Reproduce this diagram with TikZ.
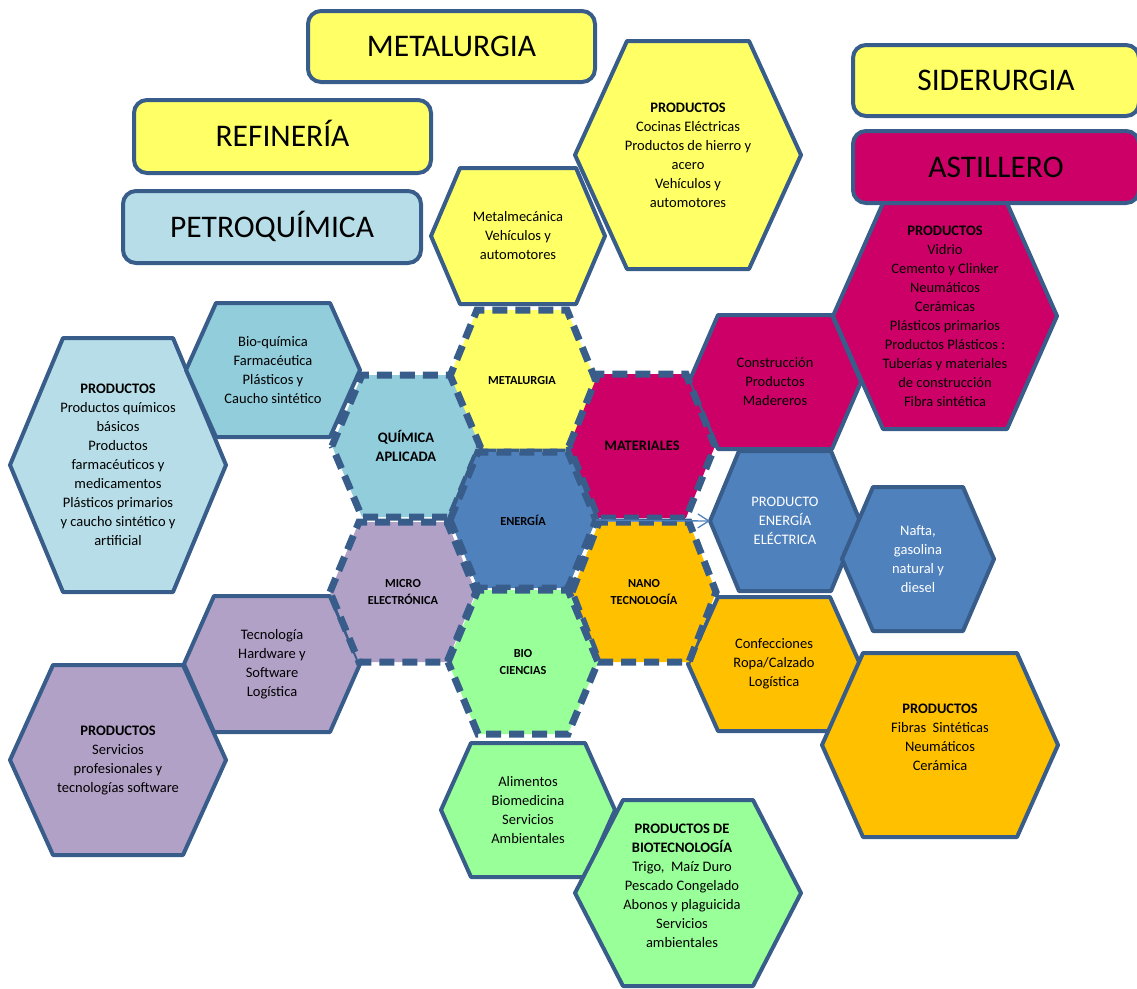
\documentclass[tikz,border=0pt]{standalone}
\usepackage{fontspec}
\setmainfont{Carlito}
\usepackage{tikz}
\usetikzlibrary{arrows.meta}
\definecolor{borde}{HTML}{385D8A}
\definecolor{amarillo}{HTML}{FFFF66}
\definecolor{celeste}{HTML}{B7DEE8}
\definecolor{turquesa}{HTML}{92CDDC}
\definecolor{azul}{HTML}{4F81BD}
\definecolor{fucsia}{HTML}{CC0066}
\definecolor{lila}{HTML}{B2A1C7}
\definecolor{verde}{HTML}{99FF99}
\definecolor{naranja}{HTML}{FFC000}
\tikzset{
  celda/.style={draw=borde,line width=4pt,line join=round},
  nucleo/.style={draw=borde,line width=7pt,dash pattern=on 15pt off 8pt},
  texto/.style={align=center,inner sep=0pt,font=\fontsize{14.5pt}{19pt}\selectfont},
  centro/.style={align=center,inner sep=0pt,font=\bfseries\fontsize{12.3pt}{17pt}\selectfont},
  centrog/.style={centro,font=\bfseries\fontsize{14.5pt}{19pt}\selectfont},
  titulo/.style={draw=borde,line width=4pt,rounded corners=13pt,inner sep=0pt,
    text height=20pt,text depth=0pt,font=\fontsize{31.5pt}{36pt}\selectfont},
  flecha/.style={-{Straight Barb[length=11pt,width=14pt]},line width=1.3pt,draw=azul}
}
% hexagono: estilo, nombre, centro x, centro y, semiancho, semialto, sesgo
\newcommand{\hexa}[7][celda]{%
  \draw[#1] (#3-#5,#4) -- (#3-#5+#7,#4-#6) -- (#3+#5-#7,#4-#6) -- (#3+#5,#4)
    -- (#3+#5-#7,#4+#6) -- (#3-#5+#7,#4+#6) -- cycle;
  \coordinate (#2) at (#3,#4);
  \coordinate (#2-w) at (#3-#5,#4);
  \coordinate (#2-e) at (#3+#5,#4);
}
\begin{document}
\begin{tikzpicture}[x=1pt,y=-1pt]
 \useasboundingbox (0,0) rectangle (1137,988);
 \clip (0,0) rectangle (1137,988);

 % titulos
 \node[titulo,fill=amarillo,minimum width=287pt,minimum height=71pt] (tmet) at (451.5,46.5) {METALURGIA};
 \node[titulo,fill=amarillo,minimum width=297pt,minimum height=73pt] (tref) at (282.5,136.5) {REFINERÍA};
 \node[titulo,fill=celeste,minimum width=298pt,minimum height=72pt] (tpet) at (272,227) {PETROQUÍMICA};
 \node[titulo,fill=amarillo,minimum width=286pt,minimum height=71pt] (tsid) at (996,80.5) {SIDERURGIA};
 \node[titulo,fill=fucsia,minimum width=286pt,minimum height=72pt] (tast) at (996,167) {ASTILLERO};

 % celdas exteriores
 \hexa[celda,fill=amarillo]{mmc}{518}{236}{87}{68}{29}
 \node[texto] (mmc-t) at (mmc) {Metalmecánica\\Vehículos y\\automotores};
 \hexa[celda,fill=amarillo]{pya}{688}{155}{113}{114}{52}
 \node[texto] (pya-t) at (pya) {\textbf{PRODUCTOS}\\Cocinas Eléctricas\\Productos de hierro y\\acero\\Vehículos y\\automotores};

 \hexa[celda,fill=celeste]{pqu}{118}{465}{108}{127}{53}
 \node[texto] (pqu-t) at (pqu) {\textbf{PRODUCTOS}\\Productos químicos\\básicos\\Productos\\farmacéuticos y\\medicamentos\\Plásticos primarios\\y caucho sintético y\\artificial};
 \hexa[celda,fill=turquesa]{bqu}{273}{370}{87}{67}{30}
 \node[texto] (bqu-t) at (bqu) {Bio-química\\Farmacéutica\\Plásticos y\\Caucho sintético};

 \hexa[celda,fill=lila]{pmi}{118}{760}{108}{95}{43}
 \node[texto] (pmi-t) at (pmi) {\textbf{PRODUCTOS}\\Servicios\\profesionales y\\tecnologías software};
 \hexa[celda,fill=lila]{tec}{272}{664}{88}{68}{30}
 \node[texto] (tec-t) at (tec) {Tecnología\\Hardware y\\Software\\Logística};

 \hexa[celda,fill=fucsia]{con}{775}{382}{86}{67}{29}
 \node[texto] (con-t) at (con) {Construcción\\Productos\\Madereros};
 \hexa[celda,fill=fucsia]{pma}{945}{316}{112}{113}{50}
 \node[texto] (pma-t) at (pma) {\textbf{PRODUCTOS}\\Vidrio\\Cemento y Clinker\\Neumáticos\\Cerámicas\\Plásticos primarios\\Productos Plásticos :\\Tuberías y materiales\\de construcción\\Fibra sintética};

 \hexa[celda,fill=azul]{ele}{785}{521}{75}{70}{29}
 \node[texto,text=white] (ele-t) at (ele) {PRODUCTO\\ENERGÍA\\ELÉCTRICA};
 \hexa[celda,fill=azul]{naf}{918}{559}{76}{72}{31}
 \node[texto,text=white] (naf-t) at (naf) {Nafta,\\gasolina\\natural y\\diesel};

 \hexa[celda,fill=naranja]{cnf}{774}{664}{86}{67}{30}
 \node[texto] (cnf-t) at (cnf) {Confecciones\\Ropa/Calzado\\Logística};
 \hexa[celda,fill=naranja]{pna}{940}{745}{118}{92}{41}
 \node[texto,yshift=8pt] (pna-t) at (pna) {\textbf{PRODUCTOS}\\Fibras \ Sintéticas\\Neumáticos\\Cerámica};

 \hexa[celda,fill=verde]{ali}{528}{810}{87}{67}{30}
 \node[texto] (ali-t) at (ali) {Alimentos\\Biomedicina\\Servicios\\Ambientales};
 \hexa[celda,fill=verde]{pbi}{688}{893}{113}{93}{48}
 \node[texto,xshift=-6pt,yshift=7pt] (pbi-t) at (pbi) {\textbf{PRODUCTOS DE}\\\textbf{BIOTECNOLOGÍA}\\Trigo, \ Maíz Duro\\Pescado Congelado\\Abonos y plaguicida\\Servicios\\ambientales};

 % nucleo de celdas
 \hexa[nucleo,fill=amarillo]{met}{522}{381}{74}{71}{29}
 \hexa[nucleo,fill=turquesa]{qui}{406}{446}{74}{71}{30}
 \hexa[nucleo,fill=fucsia]{mat}{642}{446}{73}{72}{29}
 \hexa[nucleo,fill=azul]{ene}{523}{520}{73}{68}{28}
 \hexa[nucleo,fill=lila]{mic}{403}{592}{73}{70}{29}
 \hexa[nucleo,fill=naranja]{nan}{644}{592}{72}{70}{27}
 \hexa[nucleo,fill=verde]{bio}{523}{662}{75}{72}{30}
 \node[centro] (met-t) at (met) {METALURGIA};
 \node[centrog] (qui-t) at (qui) {QUÍMICA\\APLICADA};
 \node[centrog] (mat-t) at (mat) {MATERIALES};
 \node[centro] (ene-t) at (ene) {ENERGÍA};
 \node[centro] (mic-t) at (mic) {MICRO\\ELECTRÓNICA};
 \node[centro] (nan-t) at (nan) {NANO\\TECNOLOGÍA};
 \node[centro] (bio-t) at (bio) {BIO\\CIENCIAS};

 \draw[flecha] (ene-e) -- (ele-w);
\end{tikzpicture}
\end{document}
